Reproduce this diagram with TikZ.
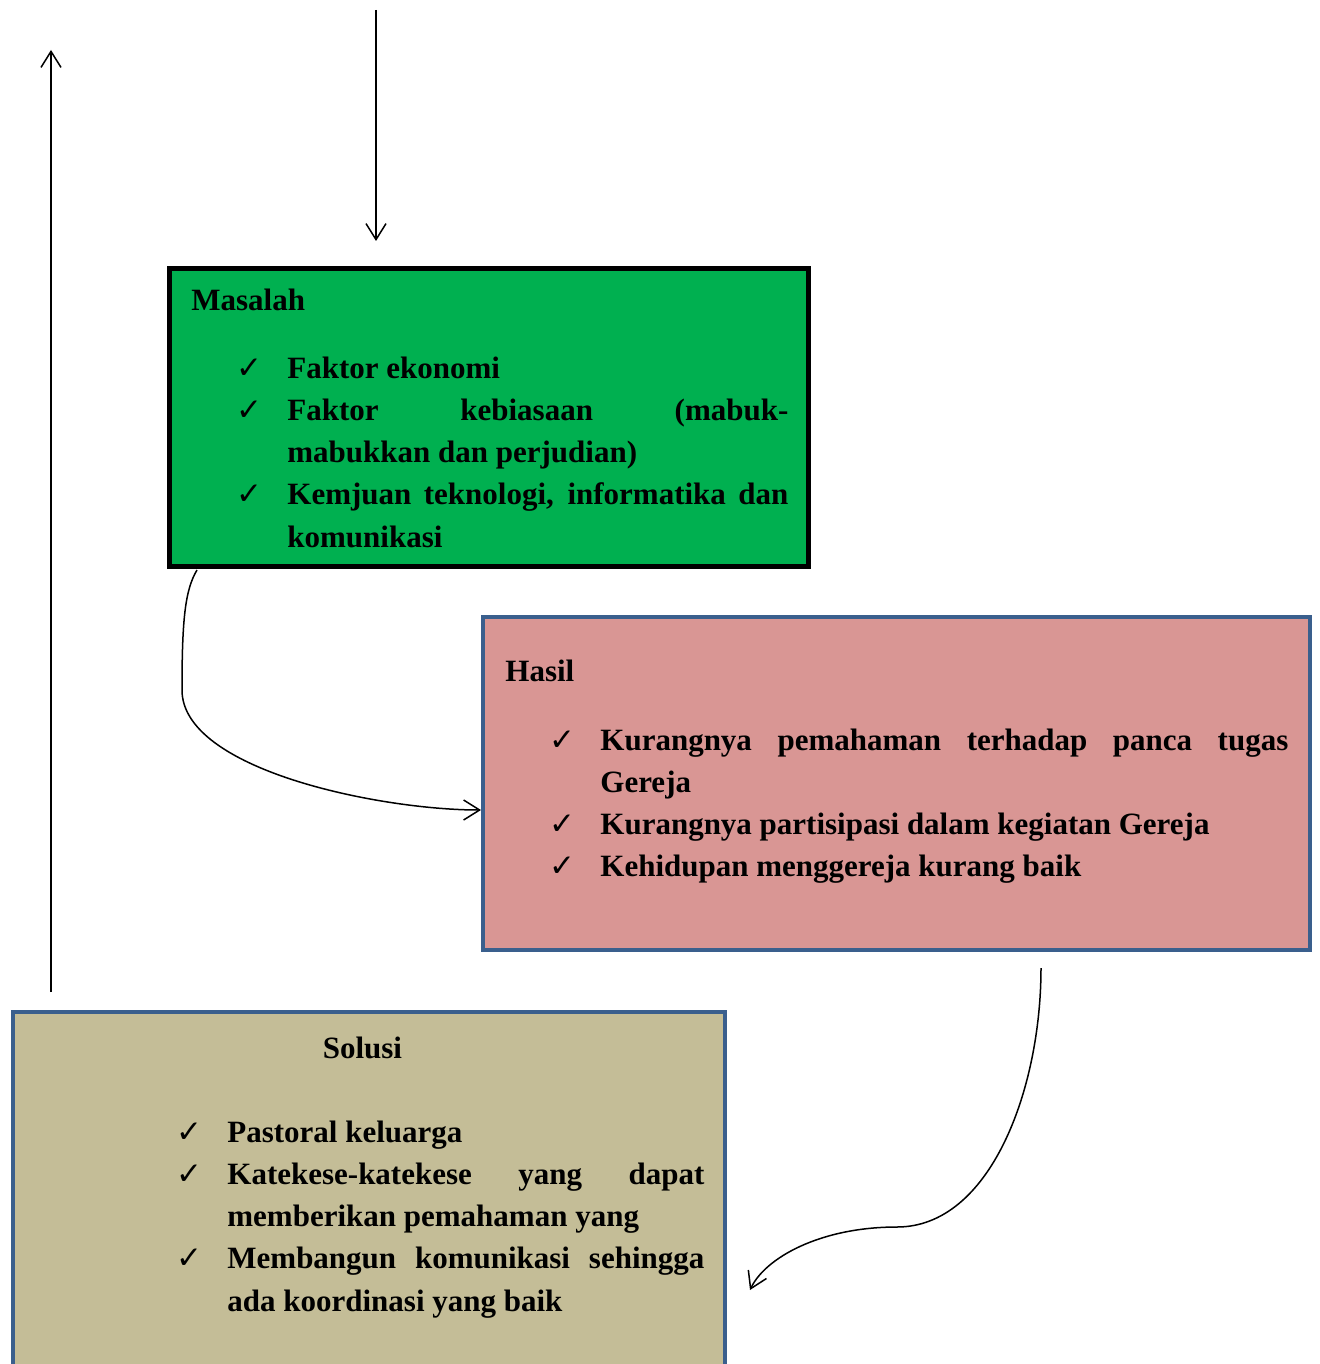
\documentclass[tikz,border=0pt]{standalone}
\usepackage{fontspec}
\setmainfont{Liberation Serif}
\newfontfamily\cekfont{DejaVu Sans}
\usetikzlibrary{arrows.meta}
\definecolor{hijau}{HTML}{00B050}
\definecolor{merah}{HTML}{D99694}
\definecolor{coklat}{HTML}{C4BD97}
\definecolor{biru}{HTML}{3A5F8D}
\newlength{\ingkat}
\newcommand{\cek}[1]{\par\noindent\hangindent=\ingkat\hangafter=1\makebox[\ingkat][r]{{\cekfont ✓}\hspace{12.5pt}}#1\par}
\tikzstyle{kotak}=[rectangle,inner sep=0pt,line width=2pt]
\tikzstyle{isi}=[inner sep=0pt,align=justify,font=\fontsize{15.5}{21.1}\selectfont\bfseries]
\tikzstyle{panah}=[draw,line width=0.75pt,-{Straight Barb[length=8pt,width=10pt]}]

\begin{document}
\begin{tikzpicture}[x=0.5pt,y=-0.5pt]
        \clip (0,0) rectangle (1319,1364);
        % kotak
        \node[kotak,draw=black,line width=2.5pt,fill=hijau,minimum width=319.5pt,minimum height=149pt] (masalah) at (488.5,417) {};
        \node[kotak,draw=biru,fill=merah,minimum width=413.5pt,minimum height=166.5pt] (hasil) at (896.5,783.5) {};
        \node[kotak,draw=biru,fill=coklat,minimum width=356pt,minimum height=194pt] (solusi) at (369,1206) {};
        % isi
        \node[isi,text width=298.5pt,anchor=base west] (masalahisi) at (191,310) {Masalah\par\vspace{13pt}\setlength{\ingkat}{48pt}%
          \cek{Faktor ekonomi}
          \cek{Faktor kebiasaan (mabuk-\linebreak mabukkan dan perjudian)}
          \cek{Kemjuan teknologi, informatika dan \linebreak komunikasi}};
        \node[isi,text width=391.5pt,anchor=base west] (hasilisi) at (505,681) {Hasil\par\vspace{13.5pt}\setlength{\ingkat}{47.5pt}%
          \cek{Kurangnya pemahaman terhadap panca tugas \linebreak Gereja}
          \cek{Kurangnya partisipasi dalam kegiatan Gereja}
          \cek{Kehidupan menggereja kurang baik}};
        \node[isi,text width=342pt,anchor=base west] (solusiisi) at (20,1058) {\centerline{Solusi}\vspace{21pt}\setlength{\ingkat}{103.5pt}%
          \cek{Pastoral keluarga}
          \cek{Katekese-katekese yang dapat \linebreak memberikan pemahaman yang}
          \cek{Membangun komunikasi sehingga \linebreak ada koordinasi yang baik}};
        % panah
        \coordinate (atas1) at (51,992);
        \coordinate (atas2) at (51,50);
        \coordinate (bawah1) at (376,10);
        \coordinate (bawah2) at (376,241);
        \coordinate (lengkung1) at (197,570);
        \coordinate (lengkung2) at (1041,968);
        \coordinate (lengkung3) at (750,1290);
        \draw[panah] (atas1) -- (atas2);
        \draw[panah] (bawah1) -- (bawah2);
        \draw[panah] (lengkung1) .. controls (185,590) and (182,620) .. (182,690)
          .. controls (182,770) and (380,810) .. ([yshift=-13.25pt]hasil.west);
        \draw[panah] (lengkung2) .. controls (1041,1090) and (990,1227) .. (897,1227)
          .. controls (820,1227) and (765,1258) .. (lengkung3);
      \end{tikzpicture}
\end{document}
